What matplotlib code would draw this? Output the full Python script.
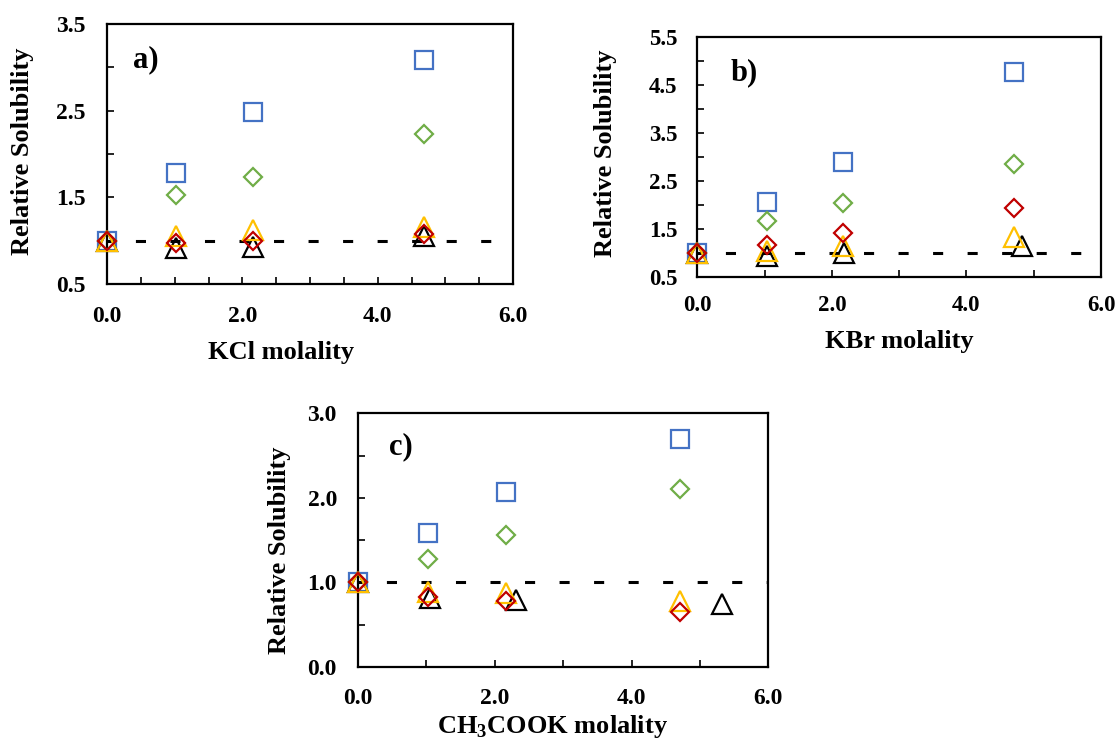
import matplotlib
matplotlib.use("Agg")
import matplotlib.pyplot as plt
from matplotlib.ticker import MultipleLocator, FormatStrFormatter

plt.rcParams['font.family'] = ['Liberation Serif', 'DejaVu Serif']
plt.rcParams['font.weight'] = 'bold'
plt.rcParams['mathtext.fontset'] = 'custom'
plt.rcParams['mathtext.rm'] = 'Liberation Serif:bold'
plt.rcParams['mathtext.bf'] = 'Liberation Serif:bold'

# ---- data ----
# Panel a (KCl)
a_x = [0.0, 1.02, 2.16, 4.69]
a_blue = [1.00, 1.78, 2.48, 3.08]
a_green = [1.00, 1.53, 1.74, 2.23]
a_black_x = [0.0, 1.02, 2.16, 4.69]
a_black = [1.00, 0.92, 0.93, 1.05]
a_orange = [1.00, 1.05, 1.12, 1.16]
a_red = [1.00, 0.97, 1.00, 1.08]

# Panel b (KBr)
b_x = [0.0, 1.03, 2.16, 4.71]
b_blue = [1.00, 2.05, 2.89, 4.77]
b_green = [1.00, 1.66, 2.03, 2.86]
b_black_x = [0.0, 1.03, 2.18, 4.83]
b_black = [1.00, 0.94, 1.00, 1.15]
b_orange = [1.00, 1.05, 1.15, 1.33]
b_red = [1.00, 1.17, 1.42, 1.94]

# Panel c (CH3COOK)
c_x = [0.0, 1.03, 2.16, 4.71]
c_blue = [1.00, 1.59, 2.07, 2.69]
c_green = [1.00, 1.28, 1.56, 2.11]
c_black_x = [0.0, 1.05, 2.31, 5.32]
c_black = [1.00, 0.82, 0.79, 0.74]
c_orange = [1.00, 0.89, 0.87, 0.78]
c_red = [1.00, 0.83, 0.78, 0.65]

blue, green, orange, red, black = '#4472C4', '#70AD47', '#FFC000', '#C00000', '#000000'

fig = plt.figure(figsize=(11.18, 7.38), dpi=100)

panels = [
    dict(rect=[0.0957, 0.6152, 0.3632, 0.3523], x=a_x, blue=a_blue, green=a_green,
         bx=a_black_x, black=a_black, orange=a_orange, red=a_red,
         ylim=(0.5, 3.5), xmin=0.5, letter='a)', lpos=(0.064, 0.862),
         tsize=17, xpad=15.6, ypad=15.5,
         xlabel='KCl molality', xlc=(0.429, -0.22), ylc=(-0.18, 0.51)),
    dict(rect=[0.6237, 0.6247, 0.3611, 0.3256], x=b_x, blue=b_blue, green=b_green,
         bx=b_black_x, black=b_black, orange=b_orange, red=b_red,
         ylim=(0.5, 5.5), xmin=1.0, letter='b)', lpos=(0.083, 0.851),
         tsize=16.5, xpad=12.8, ypad=14.5,
         xlabel='KBr molality', xlc=(0.5, -0.22), ylc=(-0.199, 0.516)),
    dict(rect=[0.3200, 0.0962, 0.3673, 0.3438], x=c_x, blue=c_blue, green=c_green,
         bx=c_black_x, black=c_black, orange=c_orange, red=c_red,
         ylim=(0.0, 3.0), xmin=1.0, letter='c)', lpos=(0.077, 0.868),
         tsize=17, xpad=15.2, ypad=15.0,
         xlabel=r'CH$_\mathregular{3}$COOK molality', xlc=(0.475, -0.18), ylc=(-0.162, 0.459)),
]

for p in panels:
    ax = fig.add_axes(p['rect'])
    ax.plot([0, 6], [1, 1], color='black', lw=2.2, linestyle=(2.0, (3.3, 8.0)), zorder=1)
    mk = dict(linestyle='none', markerfacecolor='none', markeredgewidth=1.6, zorder=3, clip_on=False)
    ax.plot(p['x'], p['blue'], marker='s', ms=13.5, markeredgecolor=blue, **mk)
    ax.plot(p['x'], p['green'], marker='D', ms=9.0, markeredgecolor=green, **mk)
    ax.plot(p['bx'], p['black'], marker='^', ms=14, markeredgecolor=black, **mk)
    ax.plot(p['x'], p['orange'], marker='^', ms=14, markeredgecolor=orange, **mk)
    ax.plot(p['x'], p['red'], marker='D', ms=9.0, markeredgecolor=red, **mk)

    ax.set_xlim(0, 6)
    ax.set_ylim(*p['ylim'])
    ax.xaxis.set_major_locator(MultipleLocator(2.0))
    ax.xaxis.set_minor_locator(MultipleLocator(p['xmin']))
    y0, y1 = p['ylim']
    ax.set_yticks([y0 + i for i in range(int(round(y1 - y0)) + 1)])
    ax.yaxis.set_minor_locator(MultipleLocator(0.5))
    ax.xaxis.set_major_formatter(FormatStrFormatter('%.1f'))
    ax.yaxis.set_major_formatter(FormatStrFormatter('%.1f'))
    ax.tick_params(which='both', direction='in', length=5, width=1.2, top=False, right=False)
    ax.tick_params(axis='x', which='major', pad=p['xpad'], labelsize=p['tsize'])
    ax.tick_params(axis='y', which='major', pad=p['ypad'], labelsize=p['tsize'])
    for sp in ax.spines.values():
        sp.set_linewidth(1.6)
    for lab in ax.get_xticklabels() + ax.get_yticklabels():
        lab.set_fontweight('bold')
    ax.set_xlabel(p['xlabel'], fontsize=19, fontweight='bold')
    ax.set_ylabel('Relative Solubility', fontsize=19, fontweight='bold')
    ax.xaxis.set_label_coords(*p['xlc'])
    ax.yaxis.set_label_coords(*p['ylc'])
    ax.text(p['lpos'][0], p['lpos'][1], p['letter'], transform=ax.transAxes, fontsize=22,
            fontweight='bold', va='center', ha='left')

fig.savefig('out.png', dpi=100)
